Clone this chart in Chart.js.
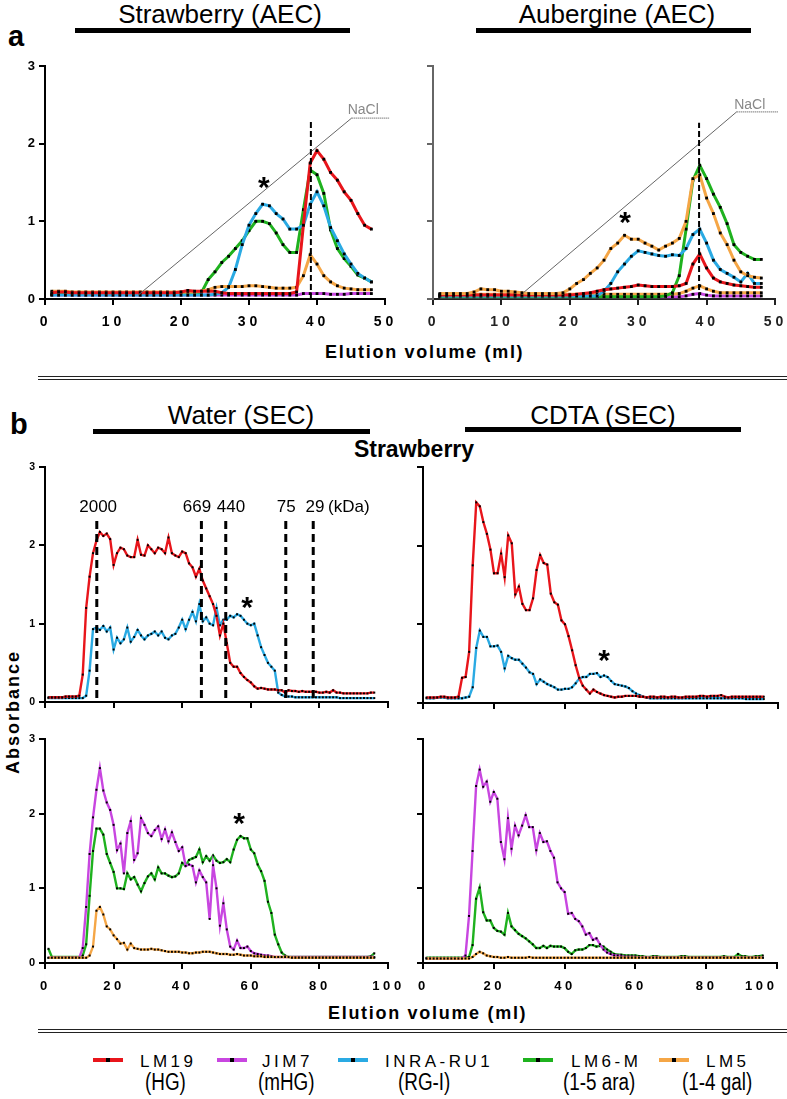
<!DOCTYPE html>
<html>
<head>
<meta charset="utf-8">
<script src="https://cdn.jsdelivr.net/npm/chart.js@4.4.0/dist/chart.umd.min.js"></script>
<style>
  body { margin: 0; width: 787px; height: 1099px; position: relative; background: #fff; overflow: hidden;
         font-family: "Liberation Sans", Arial, sans-serif; color: #000; }
  .t { position: absolute; white-space: nowrap; line-height: 1; }
  .bar { position: absolute; background: #000; height: 5px; }
  .rule { position: absolute; left: 38px; width: 749px; height: 1px; background: #222; }
  canvas { position: absolute; }
  .sw { position: absolute; width: 30px; height: 4px; }
  .sw i { position: absolute; left: 13px; top: 0; width: 4px; height: 4px; background: #000; }
  .lg1 { font-size: 17px; letter-spacing: 3.5px; }
  .lg2 { font-size: 23px; transform: scaleX(0.82); transform-origin: 0 0; }
</style>
</head>
<body>

<!-- ============ TEXTS ============ -->
<div class="t" style="left:8px;top:22px;font-size:29px;font-weight:bold;">a</div>
<div class="t" style="left:220px;top:1px;font-size:26px;transform:translateX(-50%);">Strawberry (AEC)</div>
<div class="bar" style="left:75px;top:28px;width:275px;"></div>
<div class="t" style="left:617px;top:1px;font-size:26px;transform:translateX(-50%);">Aubergine (AEC)</div>
<div class="bar" style="left:476px;top:28px;width:275px;"></div>
<div class="t" style="left:325px;top:343px;font-size:18px;font-weight:bold;letter-spacing:1.7px;">Elution volume (ml)</div>
<div class="rule" style="top:376px;"></div>
<div class="rule" style="top:379px;"></div>

<div class="t" style="left:10px;top:410px;font-size:29px;font-weight:bold;">b</div>
<div class="t" style="left:241px;top:402px;font-size:26px;transform:translateX(-50%);">Water (SEC)</div>
<div class="bar" style="left:93px;top:429px;width:277px;"></div>
<div class="t" style="left:603px;top:402px;font-size:26px;transform:translateX(-50%);">CDTA (SEC)</div>
<div class="bar" style="left:465px;top:427px;width:276px;"></div>
<div class="t" style="left:414px;top:438px;font-size:23px;font-weight:bold;transform:translateX(-50%);">Strawberry</div>
<div class="t" style="left:13px;top:712px;font-size:18px;font-weight:bold;letter-spacing:2px;transform:translate(-50%,-50%) rotate(-90deg);">Absorbance</div>
<div class="t" style="left:328px;top:1004px;font-size:18px;font-weight:bold;letter-spacing:1.7px;">Elution volume (ml)</div>
<div class="rule" style="top:1029px;"></div>
<div class="rule" style="top:1032px;"></div>

<!-- ============ LEGEND ============ -->
<div class="sw" style="left:93px;top:1058px;background:#e8151b;"><i></i></div>
<div class="t lg1" style="left:140px;top:1053px;">LM19</div>
<div class="t lg2" style="left:145px;top:1071px;">(HG)</div>
<div class="sw" style="left:217px;top:1058px;background:#c846e0;"><i></i></div>
<div class="t lg1" style="left:262px;top:1053px;">JIM7</div>
<div class="t lg2" style="left:258px;top:1071px;">(mHG)</div>
<div class="sw" style="left:338px;top:1058px;background:#2aaae3;"><i></i></div>
<div class="t lg1" style="left:385px;top:1053px;">INRA-RU1</div>
<div class="t lg2" style="left:398px;top:1071px;">(RG-I)</div>
<div class="sw" style="left:523px;top:1058px;background:#1fb21f;"><i></i></div>
<div class="t lg1" style="left:571px;top:1053px;">LM6-M</div>
<div class="t lg2" style="left:563px;top:1071px;">(1-5 ara)</div>
<div class="sw" style="left:659px;top:1058px;background:#f5a646;"><i></i></div>
<div class="t lg1" style="left:706px;top:1053px;">LM5</div>
<div class="t lg2" style="left:682px;top:1071px;">(1-4 gal)</div>

<script>
// ==========================================================
//   DATA
// ==========================================================

// AEC fractions (ml) and SEC fractions (ml)
const aecVolume = Array.from({ length: 48 }, (_, i) => i + 1);
const secVolume = Array.from({ length: 96 }, (_, i) => i + 1);

// ---- a : Strawberry (AEC)
const strawAecLM19 = [
  0.08, 0.09, 0.09, 0.08, 0.08, 0.08, 0.08, 0.08, 0.08, 0.08,
  0.08, 0.08, 0.08, 0.08, 0.08, 0.08, 0.08, 0.08, 0.08, 0.09,
  0.11, 0.1, 0.1, 0.1, 0.1, 0.08, 0.07, 0.07, 0.07, 0.07,
  0.07, 0.07, 0.07, 0.07, 0.07, 0.07, 0.09, 0.95, 1.75, 1.91,
  1.8, 1.63, 1.53, 1.38, 1.27, 1.1, 0.95, 0.9,
];
const strawAecJIM7 = [
  0.05, 0.05, 0.05, 0.05, 0.05, 0.05, 0.05, 0.05, 0.05, 0.05,
  0.05, 0.05, 0.05, 0.05, 0.05, 0.05, 0.05, 0.05, 0.05, 0.05,
  0.05, 0.05, 0.05, 0.05, 0.05, 0.05, 0.05, 0.05, 0.05, 0.05,
  0.05, 0.05, 0.05, 0.05, 0.05, 0.05, 0.05, 0.07, 0.07, 0.07,
  0.07, 0.06, 0.06, 0.06, 0.07, 0.07, 0.07, 0.07,
];
const strawAecRU1 = [
  0.05, 0.05, 0.05, 0.05, 0.05, 0.05, 0.05, 0.05, 0.05, 0.05,
  0.05, 0.05, 0.05, 0.05, 0.05, 0.05, 0.05, 0.05, 0.05, 0.05,
  0.05, 0.05, 0.05, 0.05, 0.06, 0.08, 0.15, 0.38, 0.7, 0.95,
  1.1, 1.22, 1.2, 1.1, 1.03, 0.9, 0.9, 0.95, 1.22, 1.38,
  1.2, 0.92, 0.75, 0.58, 0.45, 0.33, 0.27, 0.22,
];
const strawAecLM6 = [
  0.06, 0.06, 0.06, 0.06, 0.06, 0.06, 0.06, 0.06, 0.06, 0.06,
  0.06, 0.06, 0.06, 0.06, 0.06, 0.06, 0.06, 0.06, 0.06, 0.06,
  0.06, 0.06, 0.08, 0.25, 0.35, 0.47, 0.55, 0.65, 0.75, 0.88,
  1.0, 1.0, 0.97, 0.85, 0.7, 0.6, 0.6, 1.15, 1.66, 1.6,
  1.36, 0.89, 0.65, 0.52, 0.42, 0.31, 0.27, 0.22,
];
const strawAecLM5 = [
  0.1, 0.1, 0.1, 0.09, 0.09, 0.09, 0.09, 0.09, 0.09, 0.09,
  0.09, 0.09, 0.09, 0.09, 0.09, 0.09, 0.09, 0.09, 0.09, 0.09,
  0.09, 0.09, 0.1, 0.12, 0.15, 0.16, 0.16, 0.16, 0.16, 0.17,
  0.17, 0.16, 0.15, 0.14, 0.14, 0.14, 0.15, 0.3, 0.57, 0.45,
  0.3, 0.22, 0.17, 0.14, 0.13, 0.12, 0.12, 0.12,
];
const strawNaclX = [13.7, 45.1, 50.7];
const strawNaclY = [0.05, 2.33, 2.33];

// ---- a : Aubergine (AEC)
const aubAecLM19 = [
  0.05, 0.05, 0.05, 0.05, 0.05, 0.05, 0.05, 0.05, 0.05, 0.05,
  0.05, 0.05, 0.05, 0.05, 0.05, 0.05, 0.05, 0.05, 0.05, 0.05,
  0.06, 0.07, 0.08, 0.1, 0.12, 0.13, 0.14, 0.15, 0.16, 0.18,
  0.17, 0.16, 0.16, 0.16, 0.16, 0.17, 0.2, 0.45, 0.58, 0.4,
  0.27, 0.22, 0.2, 0.18, 0.17, 0.16, 0.15, 0.15,
];
const aubAecJIM7 = [
  0.03, 0.03, 0.03, 0.03, 0.03, 0.03, 0.03, 0.03, 0.03, 0.03,
  0.03, 0.03, 0.03, 0.03, 0.03, 0.03, 0.03, 0.03, 0.03, 0.03,
  0.03, 0.03, 0.03, 0.03, 0.03, 0.03, 0.03, 0.03, 0.03, 0.03,
  0.03, 0.03, 0.03, 0.03, 0.03, 0.03, 0.04, 0.06, 0.07, 0.05,
  0.04, 0.04, 0.04, 0.04, 0.04, 0.04, 0.04, 0.04,
];
const aubAecRU1 = [
  0.04, 0.04, 0.04, 0.04, 0.04, 0.04, 0.04, 0.04, 0.04, 0.04,
  0.04, 0.04, 0.04, 0.04, 0.04, 0.04, 0.04, 0.04, 0.04, 0.04,
  0.04, 0.04, 0.04, 0.04, 0.1, 0.2, 0.35, 0.45, 0.55, 0.62,
  0.6, 0.58, 0.56, 0.55, 0.57, 0.56, 0.65, 0.83, 0.9, 0.72,
  0.5, 0.38, 0.33, 0.28, 0.22, 0.33, 0.2, 0.2,
];
const aubAecLM6 = [
  0.03, 0.03, 0.03, 0.03, 0.03, 0.03, 0.03, 0.03, 0.03, 0.03,
  0.03, 0.03, 0.03, 0.03, 0.03, 0.03, 0.03, 0.03, 0.03, 0.03,
  0.03, 0.03, 0.03, 0.03, 0.03, 0.03, 0.03, 0.03, 0.03, 0.03,
  0.03, 0.03, 0.03, 0.04, 0.08, 0.3, 0.9, 1.53, 1.72, 1.55,
  1.35, 1.18, 0.97, 0.7, 0.6, 0.55, 0.51, 0.51,
];
const aubAecLM5 = [
  0.07, 0.07, 0.07, 0.07, 0.07, 0.09, 0.13, 0.12, 0.12, 0.1,
  0.1, 0.09, 0.08, 0.07, 0.07, 0.07, 0.07, 0.07, 0.08, 0.13,
  0.2, 0.25, 0.33, 0.4, 0.5, 0.65, 0.72, 0.82, 0.77, 0.77,
  0.72, 0.68, 0.63, 0.68, 0.72, 0.78, 1.0, 1.55, 1.6, 1.3,
  1.1, 0.85, 0.7, 0.5, 0.35, 0.3, 0.28, 0.27,
];
const aubAecLM5low = [
  0.06, 0.06, 0.06, 0.06, 0.06, 0.06, 0.06, 0.06, 0.06, 0.06,
  0.06, 0.06, 0.06, 0.06, 0.06, 0.06, 0.06, 0.06, 0.06, 0.06,
  0.06, 0.06, 0.06, 0.06, 0.06, 0.06, 0.06, 0.06, 0.06, 0.06,
  0.06, 0.06, 0.06, 0.06, 0.06, 0.07, 0.1, 0.14, 0.17, 0.13,
  0.1, 0.08, 0.08, 0.08, 0.08, 0.08, 0.08, 0.08,
];
const aubNaclX = [13.2, 44.4, 50.5];
const aubNaclY = [0.08, 2.41, 2.41];

// ---- b : Water (SEC) top
const waterLM19 = [
  0.06, 0.06, 0.06, 0.06, 0.06, 0.07, 0.07, 0.07, 0.07, 0.08,
  0.35, 1.2, 1.6, 1.9, 2.06, 2.17, 2.12, 2.15, 2.08, 1.75,
  1.9, 1.97, 1.95, 1.87, 1.85, 1.85, 2.07, 1.88, 1.87, 2.0,
  1.95, 1.9, 1.97, 1.95, 1.9, 2.1, 1.9, 1.87, 1.85, 1.92,
  1.9, 1.77, 1.72, 1.6, 1.7, 1.55, 1.45, 1.35, 1.25, 1.1,
  0.85, 1.0, 0.75, 0.5, 0.45, 0.45, 0.37, 0.32, 0.28, 0.25,
  0.2, 0.17, 0.18, 0.17, 0.16, 0.16, 0.16, 0.15, 0.15, 0.12,
  0.15, 0.14, 0.14, 0.13, 0.14, 0.13, 0.13, 0.13, 0.13, 0.12,
  0.12, 0.13, 0.12, 0.15, 0.12, 0.12, 0.11, 0.11, 0.11, 0.11,
  0.11, 0.11, 0.11, 0.11, 0.12, 0.12,
];
const waterRU1 = [
  0.05, 0.05, 0.05, 0.05, 0.05, 0.05, 0.05, 0.05, 0.05, 0.05,
  0.05, 0.08, 0.4, 0.93, 0.95, 0.92, 0.97, 0.9, 0.95, 0.67,
  0.82, 0.75, 0.8, 0.95, 0.77, 0.83, 0.92, 0.85, 0.8, 0.85,
  0.87, 0.9, 0.85, 0.9, 0.82, 0.8, 0.85, 0.87, 0.95, 1.05,
  0.93, 1.05, 1.15, 1.03, 1.25, 1.03, 1.08, 1.0, 0.98, 1.2,
  0.98, 1.05, 1.05, 1.1, 1.08, 1.12, 1.1, 1.05, 1.0, 0.98,
  1.0, 0.85, 0.7, 0.6, 0.5, 0.45, 0.4, 0.12, 0.09, 0.07,
  0.07, 0.07, 0.06, 0.06, 0.06, 0.06, 0.06, 0.06, 0.06, 0.06,
  0.06, 0.06, 0.06, 0.06, 0.06, 0.05, 0.05, 0.05, 0.05, 0.05,
  0.05, 0.05, 0.05, 0.05, 0.05, 0.05,
];
// size markers (kDa)
const markerVolume = [15.1, 45.6, 52.7, 70.2, 78.2];
const markerLabel = ["2000", "669", "440", "75", "29", "(kDa)"];
const markerLabelX = [15.5, 44.3, 54.2, 70.3, 78.7, 88.6];

// ---- b : CDTA (SEC) top
const cdtaLM19 = [
  0.07, 0.07, 0.07, 0.07, 0.08, 0.08, 0.07, 0.07, 0.07, 0.08,
  0.32, 0.33, 0.65, 1.75, 2.55, 2.5, 2.3, 2.15, 1.95, 1.65,
  1.65, 1.9, 1.6, 2.13, 2.03, 1.38, 1.48, 1.26, 1.18, 1.18,
  1.33, 1.69, 1.88, 1.78, 1.76, 1.39, 1.28, 1.25, 1.05, 1.0,
  0.85, 0.67, 0.48, 0.32, 0.22, 0.17, 0.12, 0.17, 0.14, 0.12,
  0.1, 0.09, 0.08, 0.07, 0.08, 0.08, 0.09, 0.09, 0.09, 0.09,
  0.08, 0.08, 0.07, 0.08, 0.08, 0.07, 0.08, 0.08, 0.07, 0.08,
  0.08, 0.07, 0.07, 0.08, 0.08, 0.08, 0.08, 0.09, 0.09, 0.08,
  0.09, 0.09, 0.09, 0.1, 0.08, 0.07, 0.08, 0.08, 0.08, 0.08,
  0.08, 0.08, 0.08, 0.08, 0.08, 0.08,
];
const cdtaRU1 = [
  0.06, 0.06, 0.06, 0.07, 0.07, 0.07, 0.06, 0.06, 0.06, 0.06,
  0.06, 0.07, 0.08, 0.2, 0.7, 0.92, 0.84, 0.84, 0.72, 0.72,
  0.73, 0.65, 0.44, 0.6, 0.57, 0.55, 0.55, 0.5, 0.45, 0.39,
  0.37, 0.24, 0.3, 0.27, 0.24, 0.22, 0.2, 0.17, 0.17, 0.18,
  0.18, 0.2, 0.25, 0.31, 0.33, 0.33, 0.37, 0.37, 0.38, 0.33,
  0.35, 0.33, 0.28, 0.24, 0.23, 0.22, 0.21, 0.19, 0.15, 0.12,
  0.1, 0.08, 0.07, 0.06, 0.06, 0.06, 0.06, 0.06, 0.06, 0.06,
  0.06, 0.06, 0.06, 0.06, 0.06, 0.06, 0.06, 0.06, 0.06, 0.06,
  0.06, 0.06, 0.06, 0.06, 0.06, 0.06, 0.06, 0.06, 0.06, 0.06,
  0.05, 0.05, 0.05, 0.05, 0.05, 0.05,
];

// ---- b : Water (SEC) bottom
const waterJIM7 = [
  0.07, 0.07, 0.07, 0.07, 0.07, 0.07, 0.07, 0.07, 0.07, 0.07,
  0.2, 0.75, 1.46, 1.95, 2.32, 2.61, 2.31, 2.15, 2.05, 1.85,
  1.51, 1.6, 1.2, 1.74, 1.9, 1.38, 1.47, 1.94, 1.85, 1.74,
  1.7, 1.78, 1.83, 1.66, 1.79, 1.63, 1.75, 1.62, 1.5, 1.55,
  1.3, 1.32, 1.3, 1.08, 1.24, 1.15, 1.08, 0.59, 1.31, 1.0,
  0.5, 0.8, 0.45, 0.22, 0.18, 0.3, 0.2, 0.2, 0.22, 0.16,
  0.13, 0.12, 0.11, 0.1, 0.1, 0.09, 0.08, 0.08, 0.08, 0.08,
  0.08, 0.08, 0.08, 0.08, 0.08, 0.08, 0.08, 0.08, 0.08, 0.08,
  0.08, 0.08, 0.08, 0.08, 0.08, 0.08, 0.08, 0.08, 0.08, 0.08,
  0.08, 0.08, 0.08, 0.08, 0.08, 0.08,
];
const waterLM6 = [
  0.19, 0.08, 0.08, 0.08, 0.08, 0.08, 0.08, 0.08, 0.08, 0.08,
  0.1, 0.25, 0.9, 1.5, 1.8, 1.8, 1.72, 1.46, 1.34, 1.22,
  1.0, 1.0, 0.99, 1.2, 1.12, 1.15, 1.05, 0.96, 1.07, 1.16,
  1.2, 1.12, 1.28, 1.2, 1.2, 1.17, 1.15, 1.16, 1.2, 1.34,
  1.3, 1.38, 1.4, 1.42, 1.52, 1.35, 1.43, 1.37, 1.44, 1.37,
  1.34, 1.35, 1.39, 1.35, 1.52, 1.65, 1.7, 1.67, 1.67, 1.52,
  1.47, 1.32, 1.23, 1.1, 0.82, 0.67, 0.38, 0.25, 0.14, 0.1,
  0.08, 0.08, 0.08, 0.08, 0.08, 0.08, 0.08, 0.08, 0.08, 0.08,
  0.08, 0.08, 0.08, 0.08, 0.08, 0.08, 0.08, 0.08, 0.08, 0.08,
  0.08, 0.08, 0.08, 0.08, 0.09, 0.13,
];
const waterLM5 = [
  0.07, 0.07, 0.07, 0.07, 0.07, 0.07, 0.07, 0.07, 0.07, 0.07,
  0.07, 0.07, 0.1, 0.22, 0.7, 0.75, 0.65, 0.49, 0.45, 0.37,
  0.32, 0.26, 0.27, 0.18, 0.26, 0.2, 0.19, 0.18, 0.18, 0.18,
  0.19, 0.18, 0.18, 0.17, 0.16, 0.15, 0.15, 0.15, 0.15, 0.14,
  0.14, 0.13, 0.13, 0.14, 0.14, 0.15, 0.15, 0.15, 0.14, 0.13,
  0.12, 0.12, 0.12, 0.11, 0.11, 0.12, 0.11, 0.1, 0.1, 0.1,
  0.09, 0.09, 0.09, 0.08, 0.08, 0.08, 0.08, 0.08, 0.08, 0.08,
  0.08, 0.07, 0.07, 0.07, 0.07, 0.07, 0.07, 0.07, 0.07, 0.07,
  0.07, 0.07, 0.07, 0.07, 0.07, 0.07, 0.07, 0.07, 0.07, 0.07,
  0.07, 0.07, 0.07, 0.07, 0.07, 0.07,
];

// ---- b : CDTA (SEC) bottom
const cdtaJIM7 = [
  0.06, 0.06, 0.06, 0.06, 0.06, 0.06, 0.06, 0.06, 0.06, 0.06,
  0.06, 0.1, 0.63, 1.5, 2.37, 2.59, 2.36, 2.43, 2.16, 2.29,
  2.2, 1.62, 1.39, 1.94, 1.53, 1.84, 1.71, 1.84, 1.98, 1.82,
  1.82, 1.51, 1.74, 1.62, 1.63, 1.5, 1.41, 1.08, 1.0, 0.95,
  0.66, 0.67, 0.59, 0.56, 0.49, 0.38, 0.4, 0.31, 0.33, 0.25,
  0.18, 0.14, 0.12, 0.1, 0.1, 0.09, 0.08, 0.08, 0.08, 0.08,
  0.07, 0.07, 0.08, 0.07, 0.07, 0.08, 0.07, 0.07, 0.07, 0.07,
  0.07, 0.07, 0.07, 0.07, 0.07, 0.07, 0.07, 0.07, 0.07, 0.07,
  0.07, 0.07, 0.07, 0.07, 0.07, 0.07, 0.07, 0.07, 0.07, 0.07,
  0.07, 0.07, 0.07, 0.07, 0.07, 0.07,
];
const cdtaLM6 = [
  0.07, 0.07, 0.07, 0.07, 0.07, 0.07, 0.07, 0.07, 0.07, 0.07,
  0.07, 0.07, 0.08, 0.24, 0.86, 1.01, 0.68, 0.57, 0.57, 0.47,
  0.43, 0.42, 0.38, 0.67, 0.49, 0.44, 0.39, 0.36, 0.33, 0.29,
  0.25, 0.2, 0.2, 0.23, 0.2, 0.23, 0.22, 0.22, 0.22, 0.2,
  0.15, 0.12, 0.17, 0.18, 0.18, 0.2, 0.24, 0.24, 0.22, 0.23,
  0.22, 0.18, 0.15, 0.12, 0.11, 0.11, 0.1, 0.1, 0.1, 0.1,
  0.09, 0.09, 0.08, 0.08, 0.09, 0.09, 0.08, 0.08, 0.08, 0.08,
  0.08, 0.08, 0.09, 0.09, 0.08, 0.08, 0.08, 0.08, 0.08, 0.08,
  0.08, 0.08, 0.08, 0.08, 0.09, 0.08, 0.08, 0.08, 0.12, 0.09,
  0.09, 0.08, 0.08, 0.09, 0.09, 0.1,
];
const cdtaLM5 = [
  0.06, 0.06, 0.06, 0.06, 0.06, 0.06, 0.06, 0.06, 0.06, 0.06,
  0.06, 0.06, 0.06, 0.08, 0.12, 0.15, 0.13, 0.1, 0.09, 0.08,
  0.08, 0.07, 0.07, 0.08, 0.07, 0.07, 0.07, 0.07, 0.07, 0.08,
  0.07, 0.07, 0.07, 0.07, 0.07, 0.07, 0.07, 0.07, 0.07, 0.07,
  0.07, 0.07, 0.07, 0.07, 0.07, 0.07, 0.07, 0.07, 0.07, 0.07,
  0.07, 0.07, 0.07, 0.07, 0.07, 0.07, 0.07, 0.07, 0.07, 0.07,
  0.07, 0.07, 0.07, 0.07, 0.07, 0.07, 0.07, 0.07, 0.07, 0.07,
  0.07, 0.07, 0.07, 0.07, 0.07, 0.07, 0.07, 0.07, 0.07, 0.07,
  0.07, 0.07, 0.07, 0.07, 0.07, 0.07, 0.07, 0.07, 0.07, 0.07,
  0.07, 0.07, 0.07, 0.07, 0.07, 0.07,
];

// ==========================================================
//   STYLE
// ==========================================================
const RED = "#e8151b";
const PURPLE = "#c846e0";
const BLUE = "#2aaae3";
const GREEN = "#1fb21f";
const ORANGE = "#f5a646";
const FONT = '"Liberation Sans", Arial, sans-serif';

// padding round each plot area inside its canvas
const PL = 45, PT = 20, PR = 34, PB = 40;

// ==========================================================
//   HELPERS
// ==========================================================
function series(xs, ys, color, width, dot) {
  return {
    data: ys.map((y, i) => ({ x: xs[i], y: y })),
    borderColor: color,
    borderWidth: width,
    pointRadius: dot,
    pointStyle: "rect",
    pointBackgroundColor: "#000",
    pointBorderWidth: 0,
    tension: 0,
  };
}

function guide(xs, ys, color, width, dash) {
  return {
    data: xs.map((x, i) => ({ x: x, y: ys[i] })),
    borderColor: color,
    borderWidth: width,
    borderDash: dash,
    pointRadius: 0,
    tension: 0,
    clip: false,
  };
}

// text drawn in data coordinates (asterisks, NaCl, kDa)
const notesPlugin = {
  id: "notes",
  afterDatasetsDraw(chart, args, opts) {
    const ctx = chart.ctx;
    const sx = chart.scales.x;
    const sy = chart.scales.y;
    (opts.items || []).forEach((n) => {
      ctx.save();
      ctx.font = n.font;
      ctx.fillStyle = n.color || "#000";
      ctx.textAlign = "center";
      ctx.textBaseline = "middle";
      ctx.fillText(n.text, sx.getPixelForValue(n.x), sy.getPixelForValue(n.y) + (n.dy || 0));
      ctx.restore();
    });
  },
};

// spaced digits like the original axis ("1 0 0")
function spaced(v) {
  return String(v).split("").join(" ") + "\u2009";
}

function makePanel(box, o) {
  const cv = document.createElement("canvas");
  const w = box.right - box.left + PL + PR;
  const h = box.bottom - box.top + PT + PB;
  cv.width = w;
  cv.height = h;
  cv.style.left = box.left - PL + "px";
  cv.style.top = box.top - PT + "px";
  cv.style.width = w + "px";
  cv.style.height = h + "px";
  document.body.appendChild(cv);

  const yColor = o.yColor || "#000";
  const xColor = o.xColor || "#000";

  return new Chart(cv, {
    type: "line",
    data: { datasets: o.datasets },
    options: {
      responsive: false,
      animation: false,
      devicePixelRatio: 1,
      layout: { autoPadding: false, padding: { left: 0, top: PT, right: PR, bottom: 0 } },
      plugins: {
        legend: { display: false },
        tooltip: { enabled: false },
        notes: { items: o.notes || [] },
      },
      scales: {
        x: {
          type: "linear",
          min: 0,
          max: o.xMax,
          afterFit: (s) => {
            s.height = PB;
            s.paddingLeft = 0;
            s.paddingRight = 0;
          },
          ticks: {
            display: o.showX,
            stepSize: o.xStep,
            autoSkip: false,
            maxRotation: 0,
            padding: o.xPad || 9,
            color: xColor,
            font: { family: FONT, size: o.xFont || 14, weight: "bold" },
            callback: o.xLabel || spaced,
          },
          grid: { drawOnChartArea: false, tickLength: 6, lineWidth: 2, color: xColor },
          border: { width: 2, color: xColor },
        },
        y: {
          min: 0,
          max: 3,
          afterFit: (s) => {
            s.width = PL;
            s.paddingTop = 0;
            s.paddingBottom = 0;
          },
          ticks: {
            display: o.showY,
            stepSize: 1,
            padding: 4,
            color: "#000",
            font: { family: FONT, size: o.yFont || 13, weight: "bold" },
          },
          grid: { drawOnChartArea: false, tickLength: 6, lineWidth: 2, color: yColor },
          border: { width: 2, color: yColor },
        },
      },
    },
    plugins: [notesPlugin],
  });
}

const STAR = "bold 30px " + FONT;
const NACL = "14px " + FONT;

// ==========================================================
//   a : AEC
// ==========================================================
makePanel({ left: 45, right: 385, top: 66, bottom: 299 }, {
  xMax: 50, xStep: 10, showX: true, showY: true, yFont: 13, xFont: 14,
  datasets: [
    guide([39.1, 39.1], [0, 2.3], "#000", 2, [6, 3]),
    guide(strawNaclX.slice(0, 2), strawNaclY.slice(0, 2), "#666", 1, []),
    guide(strawNaclX.slice(1), strawNaclY.slice(1), "#666", 1.2, [1, 1]),
    series(aecVolume, strawAecLM19, RED, 3, 2),
    series(aecVolume, strawAecLM5, ORANGE, 3, 2),
    series(aecVolume, strawAecRU1, BLUE, 3, 2),
    series(aecVolume, strawAecLM6, GREEN, 3, 2),
    series(aecVolume, strawAecJIM7, PURPLE, 3, 2),
  ],
  notes: [
    { x: 32.2, y: 1.51, text: "*", font: STAR, dy: 7 },
    { x: 46.8, y: 2.43, text: "NaCl", font: NACL, color: "#888" },
  ],
});

makePanel({ left: 433, right: 775, top: 66, bottom: 299 }, {
  xMax: 50, xStep: 10, showX: true, showY: false, yColor: "#666", xColor: "#222", xFont: 14,
  datasets: [
    guide([38.9, 38.9], [0, 2.27], "#000", 2, [6, 3]),
    guide(aubNaclX.slice(0, 2), aubNaclY.slice(0, 2), "#666", 1, []),
    guide(aubNaclX.slice(1), aubNaclY.slice(1), "#666", 1.2, [1, 1]),
    series(aecVolume, aubAecLM5, ORANGE, 3, 2),
    series(aecVolume, aubAecLM19, RED, 3, 2),
    series(aecVolume, aubAecRU1, BLUE, 3, 2),
    series(aecVolume, aubAecLM6, GREEN, 3, 2),
    series(aecVolume, aubAecLM5low, ORANGE, 3, 2),
    series(aecVolume, aubAecJIM7, PURPLE, 3, 2),
  ],
  notes: [
    { x: 28.1, y: 1.06, text: "*", font: STAR, dy: 7 },
    { x: 46.3, y: 2.5, text: "NaCl", font: NACL, color: "#888" },
  ],
});

// ==========================================================
//   b : SEC
// ==========================================================
const kdaNotes = markerLabel.map((t, i) => ({ x: markerLabelX[i], y: 2.49, text: t, font: "17px " + FONT }));
const kdaLines = markerVolume.map((v) => guide([v, v], [0.05, 2.36], "#000", 3, [8, 5]));

makePanel({ left: 45, right: 388, top: 467, bottom: 702 }, {
  xMax: 100, xStep: 20, showX: false, showY: true, yFont: 10.5,
  datasets: kdaLines.concat([
    series(secVolume, waterLM19, RED, 2.4, 1.4),
    series(secVolume, waterRU1, BLUE, 2.4, 1.4),
  ]),
  notes: kdaNotes.concat([{ x: 58.9, y: 1.28, text: "*", font: STAR, dy: 7 }]),
});

makePanel({ left: 423, right: 778, top: 467, bottom: 703 }, {
  xMax: 100, xStep: 20, showX: false, showY: false,
  datasets: [
    series(secVolume, cdtaLM19, RED, 2.4, 1.4),
    series(secVolume, cdtaRU1, BLUE, 2.4, 1.4),
  ],
  notes: [{ x: 51, y: 0.61, text: "*", font: STAR, dy: 7 }],
});

makePanel({ left: 45, right: 388, top: 739, bottom: 963 }, {
  xMax: 100, xStep: 20, showX: true, showY: true, yFont: 11, xFont: 13, xPad: 10,
  datasets: [
    series(secVolume, waterLM5, ORANGE, 2.4, 1.4),
    series(secVolume, waterJIM7, PURPLE, 2.4, 1.4),
    series(secVolume, waterLM6, GREEN, 2.4, 1.4),
  ],
  notes: [{ x: 56.6, y: 1.95, text: "*", font: STAR, dy: 7 }],
});

makePanel({ left: 423, right: 777, top: 739, bottom: 963 }, {
  xMax: 100, xStep: 20, showX: true, showY: false, xFont: 13, xPad: 10,
  // last label sits left of its tick in the original
  xLabel: (v) => (v === 100 ? spaced(v) + "\u2003\u2003\u2002" : spaced(v)),
  datasets: [
    series(secVolume, cdtaLM5, ORANGE, 2.4, 1.4),
    series(secVolume, cdtaJIM7, PURPLE, 2.4, 1.4),
    series(secVolume, cdtaLM6, GREEN, 2.4, 1.4),
  ],
});
</script>
</body>
</html>
